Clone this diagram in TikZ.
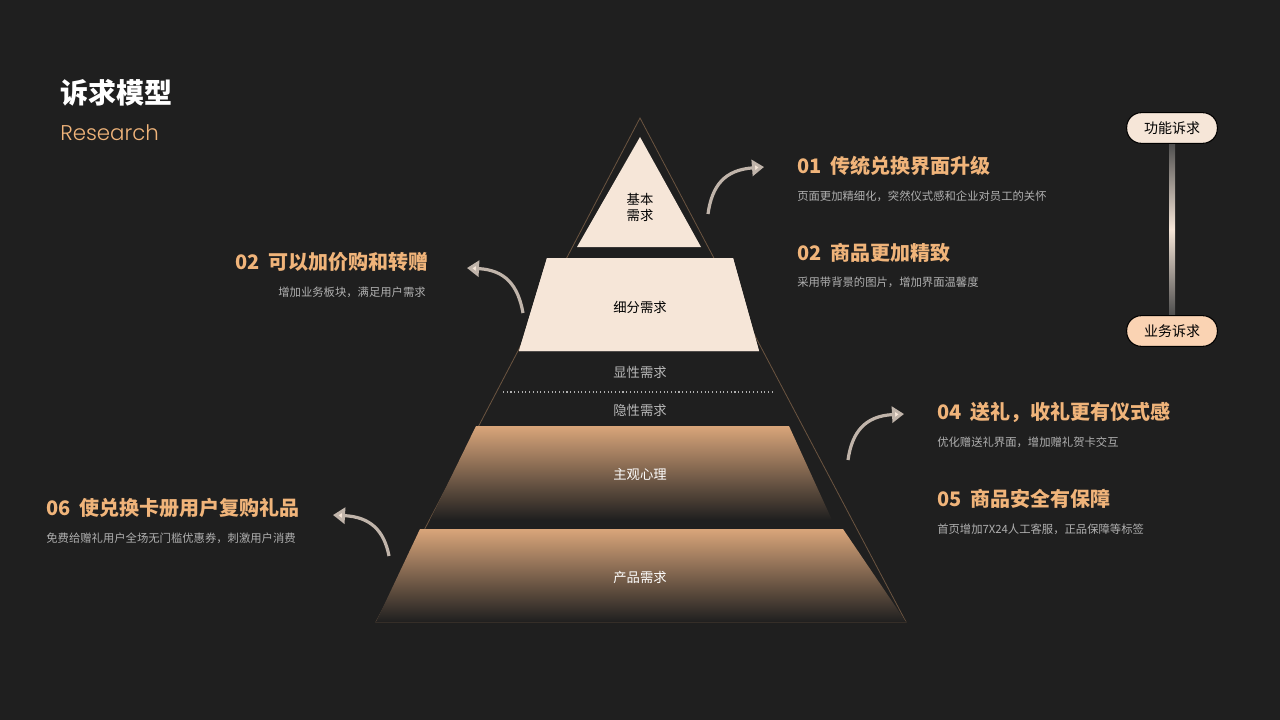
\documentclass[tikz,border=0pt]{standalone}
\usepackage{fontspec}
\setmainfont{Noto Sans CJK SC}
\newfontfamily\latinlight{Poppins Light}
\usetikzlibrary{arrows.meta}
\definecolor{bg}{HTML}{1F1F1F}
\definecolor{cream}{HTML}{F6E6D8}
\definecolor{peach}{HTML}{FAD3B3}
\definecolor{orng}{HTML}{F0B47A}
\definecolor{tan}{HTML}{D9A57A}
\definecolor{subg}{HTML}{B0B0B0}
\definecolor{edge}{HTML}{6B5440}
\tikzset{
  head/.style={text=orng,font=\fontsize{15}{18}\selectfont\bfseries,inner sep=0pt},
  sub/.style={text=subg,font=\fontsize{8.5}{10}\selectfont,inner sep=0pt},
  plab/.style={font=\fontsize{10}{12}\selectfont,inner sep=0pt},
  pill/.style={draw=black,line width=0.8pt,rounded corners=11pt,minimum width=68pt,minimum height=23pt,font=\fontsize{10.5}{12}\selectfont,text=black},
  carrow/.style={line width=2.4pt,draw=cream!75!bg,-{Triangle[length=9pt,width=12pt,fill=cream]}}
}
\begin{document}
\begin{tikzpicture}[x=0.75pt,y=-0.75pt]
\fill[bg] (0,0) rectangle (1280,720);
\useasboundingbox (0,0) rectangle (1280,720);
% title
\node[anchor=west,text=white,font=\fontsize{21}{24}\selectfont\bfseries,inner sep=0pt] (title) at (60,93) {诉求模型};
\node[anchor=west,text=orng,font=\latinlight\fontsize{16}{18}\selectfont,inner sep=0pt] (res) at (60,133) {Research};
% pyramid outline
\draw[edge,line width=0.6pt] (640,118) -- (906,622) -- (376,622) -- cycle;
\fill[cream] (640,137) -- (701,247) -- (577,247) -- cycle;
\fill[cream] (547,258) -- (733,258) -- (759,351) -- (519,351) -- cycle;
\fill[cream] (547,258) -- (733,258) -- (759,351) -- (519,351) -- cycle;
\shade[top color=tan,bottom color=bg] (476,426) -- (789,426) -- (832,520) -- (430,520) -- cycle;
\shade[top color=tan,bottom color=bg] (420,529) -- (843,529) -- (906,622) -- (376,622) -- cycle;
\draw[subg,dotted,line width=0.8pt] (503,392) -- (773,392);
\node[plab,text=black,align=center] (p1) at (640,207) {基本\\需求};
\node[plab,text=black] (p2) at (640,307) {细分需求};
\node[plab,text=subg!90!white] (p3) at (640,372) {显性需求};
\node[plab,text=subg!90!white] (p4) at (640,410) {隐性需求};
\node[plab,text=white] (p5) at (640,474) {主观心理};
\node[plab,text=white] (p6) at (640,577) {产品需求};
% right texts
\node[head,anchor=west] (h1) at (797,166) {01\ \ 传统兑换界面升级};
\node[sub,anchor=west] (s1) at (797,196) {页面更加精细化，突然仪式感和企业对员工的关怀};
\node[head,anchor=west] (h2) at (797,253) {02\ \ 商品更加精致};
\node[sub,anchor=west] (s2) at (797,282) {采用带背景的图片，增加界面温馨度};
\node[head,anchor=west] (h4) at (937,412) {04\ \ 送礼，收礼更有仪式感};
\node[sub,anchor=west] (s4) at (937,442) {优化赠送礼界面，增加赠礼贺卡交互};
\node[head,anchor=west] (h5) at (937,499) {05\ \ 商品安全有保障};
\node[sub,anchor=west] (s5) at (937,529) {首页增加7X24人工客服，正品保障等标签};
% left texts
\node[head,anchor=east] (h3) at (429,262) {02\ \ 可以加价购和转赠};
\node[sub,anchor=east] (s3) at (426,292) {增加业务板块，满足用户需求};
\node[head,anchor=east] (h6) at (300,508) {06\ \ 使兑换卡册用户复购礼品};
\node[sub,anchor=east] (s6) at (296,538) {免费给赠礼用户全场无门槛优惠券，刺激用户消费};
% arrows
\coordinate (a1s) at (708,214); \coordinate (a1e) at (764,167);
\coordinate (a2s) at (523,313); \coordinate (a2e) at (467,268);
\coordinate (a3s) at (848,460); \coordinate (a3e) at (904,414);
\coordinate (a4s) at (389,556); \coordinate (a4e) at (333,515);
\draw[carrow] (a1s) .. controls (712,185) and (725,170) .. (a1e);
\draw[carrow] (a2s) .. controls (518,285) and (505,270) .. (a2e);
\draw[carrow] (a3s) .. controls (852,432) and (865,416) .. (a3e);
\draw[carrow] (a4s) .. controls (384,530) and (370,517) .. (a4e);
% scale
\shade[top color=bg!80!white,bottom color=bg!80!white,middle color=cream] (1169,142) rectangle (1175,316);
\node[pill,fill=cream] (f1) at (1172,128) {功能诉求};
\node[pill,fill=peach] (f2) at (1172,331) {业务诉求};
\end{tikzpicture}
\end{document}
